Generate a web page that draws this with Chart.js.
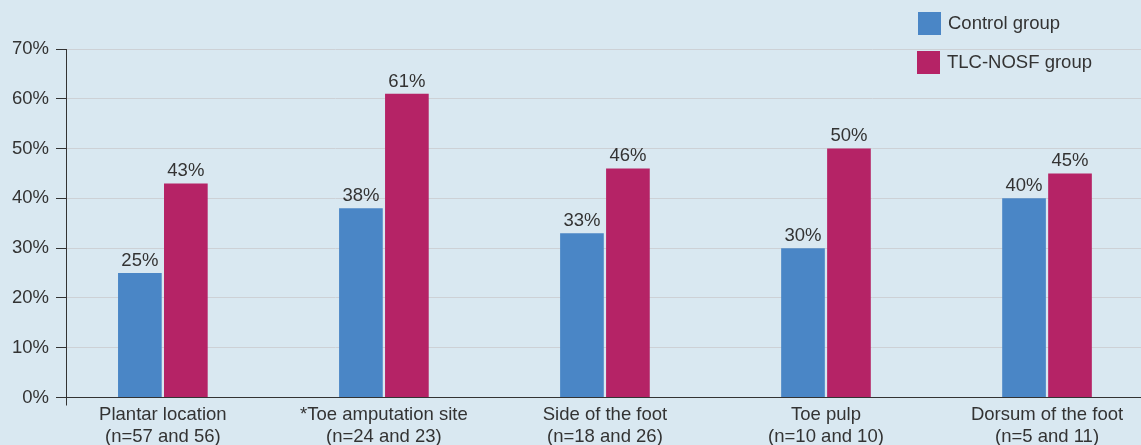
<!DOCTYPE html>
<html>
<head>
<meta charset="utf-8">
<script src="https://cdn.jsdelivr.net/npm/chart.js@4/dist/chart.umd.min.js"></script>
<style>
  html, body { margin: 0; padding: 0; background: #d9e8f1; }
  #wrap { width: 1141px; height: 445px; }
</style>
</head>
<body>
<div id="wrap"><canvas id="barChartSites" width="1141" height="445"></canvas></div>
<script>
// Ulcer location groups (two-line axis labels)
var sites = [
  ["Plantar location", "(n=57 and 56)"],
  ["*Toe amputation site", "(n=24 and 23)"],
  ["Side of the foot", "(n=18 and 26)"],
  ["Toe pulp", "(n=10 and 10)"],
  ["Dorsum of the foot", "(n=5 and 11)"],
];
var controlValues = [25, 38, 33, 30, 40];
var tlcValues = [43, 61, 46, 50, 45];
var yTicks = [0, 10, 20, 30, 40, 50, 60, 70];

var textColor = "#333333";
var fontFamily = "'Liberation Sans', Arial, Helvetica, sans-serif";
var fontSize = 18.5;

function toPoints(values) {
  return values.map(function (v, i) {
    return { x: i, y: v };
  });
}

// percentage written above every bar
var valueLabels = {
  id: "valueLabels",
  afterDatasetsDraw: function (chart) {
    var ctx = chart.ctx;
    ctx.save();
    ctx.font = fontSize + "px " + fontFamily;
    ctx.fillStyle = textColor;
    ctx.textAlign = "center";
    ctx.textBaseline = "bottom";
    chart.data.datasets.forEach(function (ds, di) {
      chart.getDatasetMeta(di).data.forEach(function (bar, i) {
        ctx.fillText(ds.data[i].y + "%", bar.x, bar.y - 3);
      });
    });
    ctx.restore();
  },
};

// stacked legend in the top right corner + axis stub below the origin
var sideLegend = {
  id: "sideLegend",
  afterDraw: function (chart) {
    var ctx = chart.ctx;
    var area = chart.chartArea;
    ctx.save();
    ctx.strokeStyle = textColor;
    ctx.lineWidth = 1;
    ctx.beginPath();
    ctx.moveTo(area.left + 0.5, area.bottom);
    ctx.lineTo(area.left + 0.5, area.bottom + 8);
    ctx.stroke();

    ctx.font = fontSize + "px " + fontFamily;
    ctx.textBaseline = "middle";
    ctx.textAlign = "left";
    chart.data.datasets.forEach(function (ds, i) {
      var y = 12 + i * 39;
      ctx.fillStyle = ds.backgroundColor;
      ctx.fillRect(918 - i, y, 23, 23);
      ctx.fillStyle = textColor;
      ctx.fillText(ds.label, 948 - i, y + 12);
    });
    ctx.restore();
  },
};

var chart = new Chart(document.getElementById("barChartSites").getContext("2d"), {
  type: "bar",
  data: {
    datasets: [
      {
        label: "Control group",
        backgroundColor: "#4a86c6",
        data: toPoints(controlValues),
      },
      {
        label: "TLC-NOSF group",
        backgroundColor: "#b52366",
        data: toPoints(tlcValues),
      },
    ],
  },
  options: {
    responsive: false,
    animation: false,
    categoryPercentage: 0.416,
    barPercentage: 0.95,
    layout: {
      padding: { top: 49, right: 0, left: 0, bottom: 0 },
    },
    scales: {
      x: {
        type: "linear",
        offset: false,
        min: -0.4382,
        max: 4.4252,
        afterBuildTicks: function (scale) {
          scale.ticks = sites.map(function (_, i) {
            return { value: i };
          });
        },
        afterFit: function (scale) {
          scale.height = 47.5;
        },
        grid: { drawOnChartArea: false, drawTicks: false },
        border: { color: textColor, width: 1 },
        ticks: {
          padding: 6,
          maxRotation: 0,
          autoSkip: false,
          color: textColor,
          font: { family: fontFamily, size: fontSize },
          callback: function (value) {
            return sites[value];
          },
        },
      },
      y: {
        min: 0,
        max: 70,
        afterBuildTicks: function (scale) {
          scale.ticks = yTicks.map(function (v) {
            return { value: v };
          });
        },
        afterFit: function (scale) {
          scale.width = 66;
        },
        grid: { color: "#cdd1d6", tickColor: textColor, tickLength: 10 },
        border: { color: textColor, width: 1 },
        ticks: {
          padding: 7,
          color: textColor,
          font: { family: fontFamily, size: fontSize },
          callback: function (value) {
            return value + "%";
          },
        },
      },
    },
    plugins: {
      legend: { display: false },
      tooltip: { enabled: false },
    },
  },
  plugins: [valueLabels, sideLegend],
});
</script>
</body>
</html>
